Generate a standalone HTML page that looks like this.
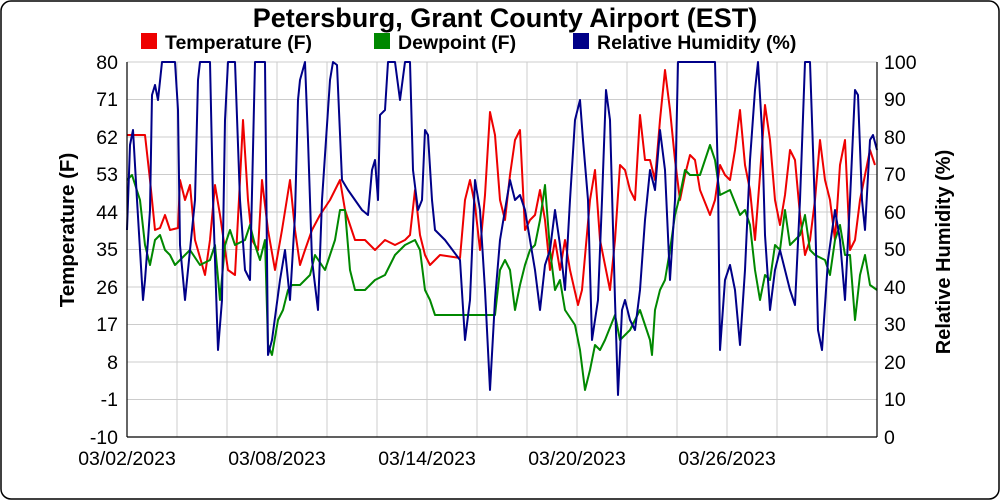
<!DOCTYPE html><html><head><style>body{margin:0;background:#fff}svg{display:block;font-family:"Liberation Sans",sans-serif}</style></head><body>
<svg width="1000" height="500" viewBox="0 0 1000 500">
<rect x="1" y="1" width="998" height="498" rx="10" fill="#fff" stroke="#000" stroke-width="1.5"/>
<text x="505" y="27" font-size="27" font-weight="bold" text-anchor="middle">Petersburg, Grant County Airport (EST)</text>
<g font-size="19.5" font-weight="bold">
<rect x="141" y="33" width="16" height="16" fill="#e00"/><text x="165" y="49">Temperature (F)</text>
<rect x="374" y="33" width="16" height="16" fill="#080"/><text x="398" y="49">Dewpoint (F)</text>
<rect x="573" y="33" width="16" height="16" fill="#008"/><text x="597" y="49">Relative Humidity (%)</text>
</g>
<g stroke="#ccc" stroke-width="1">
<line x1="127" x2="877" y1="62" y2="62"/><line x1="127" x2="877" y1="99.5" y2="99.5"/><line x1="127" x2="877" y1="137" y2="137"/><line x1="127" x2="877" y1="174.5" y2="174.5"/><line x1="127" x2="877" y1="212" y2="212"/><line x1="127" x2="877" y1="249.5" y2="249.5"/><line x1="127" x2="877" y1="287" y2="287"/><line x1="127" x2="877" y1="324.5" y2="324.5"/><line x1="127" x2="877" y1="362" y2="362"/><line x1="127" x2="877" y1="399.5" y2="399.5"/>
<line x1="177" x2="177" y1="62" y2="437"/><line x1="227" x2="227" y1="62" y2="437"/><line x1="277" x2="277" y1="62" y2="437"/><line x1="327" x2="327" y1="62" y2="437"/><line x1="377" x2="377" y1="62" y2="437"/><line x1="427" x2="427" y1="62" y2="437"/><line x1="477" x2="477" y1="62" y2="437"/><line x1="527" x2="527" y1="62" y2="437"/><line x1="577" x2="577" y1="62" y2="437"/><line x1="627" x2="627" y1="62" y2="437"/><line x1="677" x2="677" y1="62" y2="437"/><line x1="727" x2="727" y1="62" y2="437"/><line x1="777" x2="777" y1="62" y2="437"/><line x1="827" x2="827" y1="62" y2="437"/><line x1="877" x2="877" y1="62" y2="437"/>
</g>
<g fill="none" stroke-width="2" stroke-linejoin="round">
<polyline stroke="#e00" points="127,135 145,135 150,180 155,230 160,228 165,215 170,230 178,228 180,180 185,200 190,185 195,240 205,275 210,240 215,185 220,215 228,270 235,275 240,180 243,120 248,200 252,240 258,250 262,180 268,230 275,270 282,230 290,180 295,230 300,265 305,250 312,230 320,215 330,200 340,180 345,210 355,240 365,240 375,250 385,240 395,245 405,240 410,235 415,190 420,235 425,255 430,265 440,255 460,258 465,200 470,180 475,205 480,250 485,195 490,112 495,135 500,200 505,220 510,175 515,140 520,130 525,230 530,220 535,215 540,190 545,220 550,270 555,240 560,270 565,240 570,270 578,305 582,290 590,200 595,170 600,240 610,290 615,240 620,165 625,170 630,190 635,200 640,115 645,160 650,160 655,180 660,120 665,70 670,110 675,160 680,200 685,175 690,155 695,160 700,190 710,215 715,200 720,165 725,175 730,180 735,150 740,110 745,165 750,190 755,240 760,175 765,105 770,140 775,200 780,225 785,195 790,150 795,160 800,215 805,255 810,240 815,200 820,140 825,180 830,200 835,240 840,165 845,140 850,250 855,240 860,200 865,175 870,150 875,165"/>
<polyline stroke="#080" points="127,180 132,175 140,200 145,245 150,265 155,240 160,235 165,250 170,255 175,265 180,260 185,255 190,250 200,265 210,260 215,245 220,300 225,245 230,230 235,245 245,240 250,225 255,245 260,260 265,240 268,345 272,355 278,320 283,310 288,290 292,285 300,285 310,275 315,255 325,270 330,255 335,240 340,210 345,210 350,270 355,290 365,290 375,280 385,275 395,255 405,245 415,240 420,250 425,290 430,300 435,315 495,315 500,270 505,260 510,270 515,310 520,285 525,265 530,250 535,245 540,220 545,185 550,250 555,290 560,280 565,310 575,325 580,350 585,390 590,370 595,345 600,350 605,340 615,315 620,340 630,330 640,310 650,340 652,355 655,310 660,290 665,280 670,250 675,215 680,195 685,170 690,175 700,175 710,145 715,160 720,195 730,190 740,215 745,210 750,225 755,270 760,300 765,275 770,280 775,245 780,250 785,210 790,245 800,235 805,215 810,250 815,255 825,260 830,275 835,240 840,225 845,255 850,255 855,320 860,275 865,255 870,285 877,290"/>
<polyline stroke="#008" points="127,230 130,145 133,130 137,200 140,250 143,300 145,280 148,240 150,210 152,95 155,85 158,100 162,62 175,62 178,110 180,245 185,300 190,250 195,200 198,80 200,62 210,62 213,200 218,350 222,300 225,120 228,62 235,62 240,200 245,270 250,280 255,62 265,62 268,355 272,340 276,310 280,280 285,250 290,300 295,215 298,100 300,80 305,62 308,140 312,260 318,310 322,200 326,140 330,80 333,62 337,65 342,180 348,190 355,200 362,210 368,215 372,170 375,160 378,200 380,115 385,110 388,62 395,62 400,100 405,62 410,62 413,170 418,210 422,200 425,130 428,135 432,200 435,230 445,240 460,260 465,340 470,300 475,180 480,210 485,290 490,390 495,300 500,240 505,210 510,180 515,200 520,195 525,210 530,240 535,270 540,310 545,265 550,250 555,210 560,245 565,290 570,200 575,120 580,100 583,140 588,200 592,340 598,300 602,200 606,90 610,120 615,300 618,395 622,310 625,300 630,320 635,330 640,290 645,220 650,170 655,190 660,130 665,170 670,280 675,200 678,62 715,62 718,180 720,350 725,280 730,265 735,290 740,345 745,270 750,160 755,90 758,62 762,130 765,235 770,310 775,270 780,250 790,290 795,305 800,200 805,62 810,62 813,150 815,210 818,330 822,350 828,260 835,210 840,240 845,300 850,200 855,90 858,95 862,200 865,230 870,140 873,135 877,150"/>
</g>
<g stroke="#000" stroke-width="1.2">
<line x1="127" y1="62" x2="127" y2="437"/><line x1="877" y1="62" x2="877" y2="437"/><line x1="127" y1="437" x2="877" y2="437"/>
</g>
<g font-size="19.5" text-anchor="end">
<text x="118" y="69">80</text><text x="118" y="106">71</text><text x="118" y="144">62</text><text x="118" y="181">53</text><text x="118" y="219">44</text><text x="118" y="256">35</text><text x="118" y="294">26</text><text x="118" y="331">17</text><text x="118" y="369">8</text><text x="118" y="406">-1</text><text x="118" y="444">-10</text>
</g>
<g font-size="19.5" text-anchor="start">
<text x="884" y="69">100</text><text x="884" y="106">90</text><text x="884" y="144">80</text><text x="884" y="181">70</text><text x="884" y="219">60</text><text x="884" y="256">50</text><text x="884" y="294">40</text><text x="884" y="331">30</text><text x="884" y="369">20</text><text x="884" y="406">10</text><text x="884" y="444">0</text>
</g>
<g font-size="19.5" text-anchor="middle">
<text x="127" y="465">03/02/2023</text><text x="277" y="465">03/08/2023</text><text x="427" y="465">03/14/2023</text><text x="577" y="465">03/20/2023</text><text x="727" y="465">03/26/2023</text>
</g>
<text transform="translate(74,230) rotate(-90)" font-size="20.5" font-weight="bold" text-anchor="middle">Temperature (F)</text>
<text transform="translate(950,252) rotate(-90)" font-size="20" font-weight="bold" text-anchor="middle">Relative Humidity (%)</text>
</svg></body></html>
